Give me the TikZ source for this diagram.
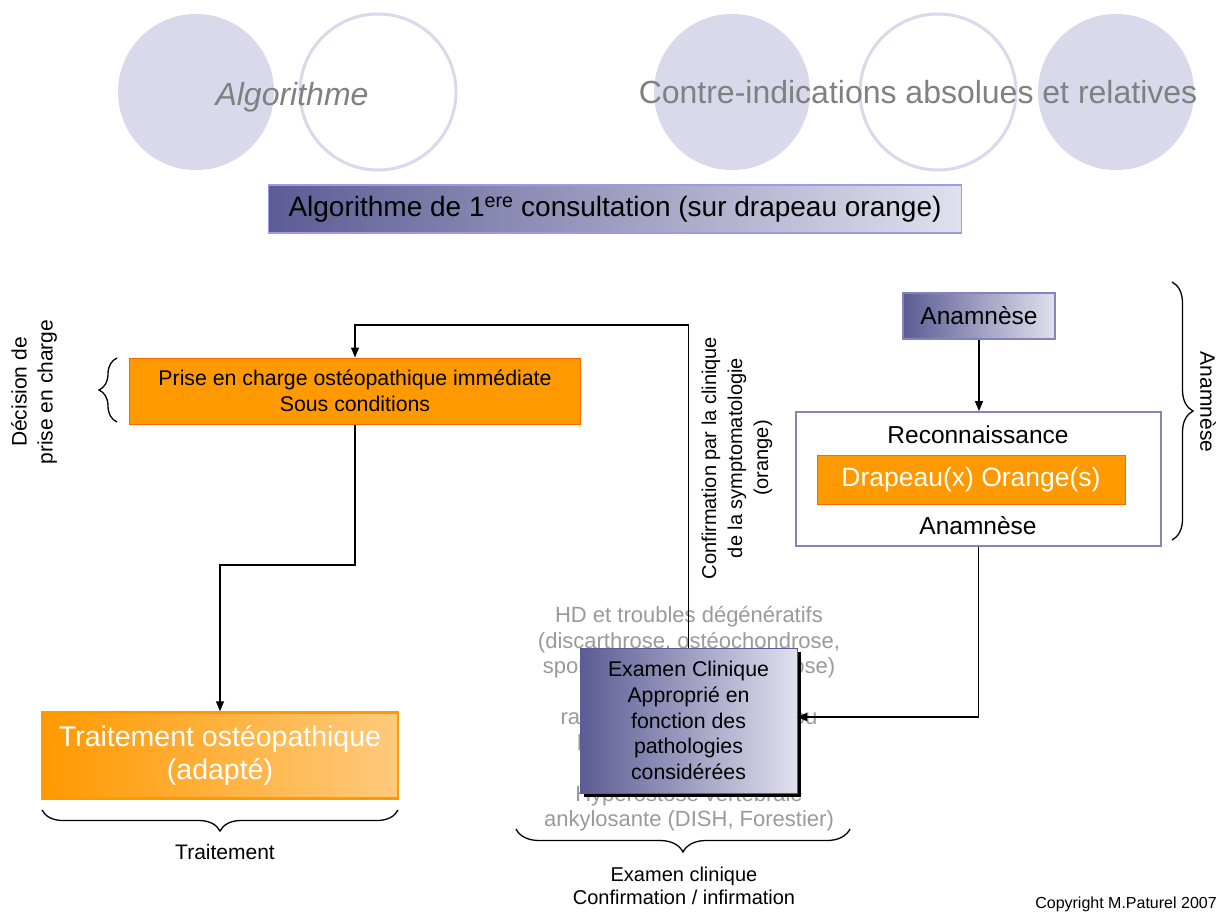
\documentclass[tikz,border=0pt]{standalone}
\usepackage{fontspec}
\setmainfont{Liberation Sans}
\usetikzlibrary{arrows.meta,decorations.pathreplacing,shadows}

\definecolor{circ}{HTML}{DAD9EC}
\definecolor{ttl}{HTML}{808080}
\definecolor{gdark}{HTML}{5C5C94}
\definecolor{glight}{HTML}{E0E0EE}
\definecolor{gborder}{HTML}{9B9BEA}
\definecolor{orng}{HTML}{FF9900}
\definecolor{orngb}{HTML}{FF6600}
\definecolor{orlight}{HTML}{FFCA7D}
\definecolor{greytxt}{HTML}{9A9A9A}
\definecolor{bigborder}{HTML}{8484BC}

\newcommand{\fsz}[2]{\fontsize{#1}{#2}\selectfont}

\begin{document}
\begin{tikzpicture}[x=1pt,y=-1pt,
  conn/.style={line width=1.3pt, -{Triangle[length=10pt,width=8pt]}},
  brc/.style={decorate, decoration={brace, amplitude=#1}, line width=1.3pt},
  brc/.default=20pt,
  gradbox/.style={draw=gborder, line width=1.2pt, left color=gdark, right color=glight, inner sep=0pt},
  orbox/.style={draw=orngb, line width=1pt, fill=orng, inner sep=0pt},
  ring/.style={draw=circ, line width=3pt, fill=white},
  disc/.style={fill=circ},
  lbl/.style={inner sep=0pt, align=center, text=black}
]
\fill[white] (0,0) rectangle (1230,911);
\useasboundingbox (0,0) rectangle (1230,911);

% decorative circles
\fill[disc] (196,92) circle [radius=78pt];
\draw[ring] (378,92) circle [radius=78pt];
\fill[disc] (732,92) circle [radius=78pt];
\draw[ring] (938,92) circle [radius=78pt];
\fill[disc] (1116,92) circle [radius=78pt];

\node[lbl, anchor=base, text=ttl, font=\fsz{32}{38}\itshape] (algo) at (292,105) {Algorithme};
\node[lbl, anchor=base, text=ttl, font=\fsz{32}{38}] (contre) at (918,103) {Contre-indications absolues et relatives};

% header
\node[gradbox, minimum width=693pt, minimum height=48pt, font=\fsz{28}{32}] (header) at (615,209)
  {Algorithme de 1\textsuperscript{ere} consultation (sur drapeau orange)};

% left column
\node[orbox, minimum width=451pt, minimum height=66pt, align=center, font=\fsz{21.3}{26}] (prise) at (355,391)
  {Prise en charge ostéopathique immédiate\\Sous conditions};
\node[draw=orng, line width=2.5pt, left color=orng, right color=orlight, inner sep=0pt,
  minimum width=356pt, minimum height=86pt, align=center, text=white, font=\fsz{28.5}{33}] (trait) at (220,755.5)
  {Traitement ostéopathique\\(adapté)};

\node[lbl, rotate=90, font=\fsz{21}{26}] (decision) at (34,392) {Décision de\\prise en charge};
\draw[brc=18pt] (117,422) -- (117,358);

\draw[brc=21pt] (398,810) -- (42,810);
\node[lbl, font=\fsz{21}{25}] (traitlbl) at (225,852) {Traitement};

% right column
\node[gradbox, draw=bigborder, minimum width=152pt, minimum height=46pt, font=\fsz{24.5}{28}] (anam) at (979,316) {Anamnèse};
\node[draw=bigborder, line width=1.8pt, fill=white, minimum width=365pt, minimum height=134pt, inner sep=0pt] (big) at (978.5,479) {};
\node[lbl, font=\fsz{24.5}{28}] (reco) at (978,435) {Reconnaissance};
\node[orbox, minimum width=308pt, minimum height=49pt, text=white, font=\fsz{26.5}{30}] (drap) at (971,479.5) {Drapeau(x) Orange(s)};
\node[lbl, font=\fsz{24.5}{28}] (anambot) at (978,526) {Anamnèse};

\draw[brc=21pt] (1172,282) -- (1172,540);
\node[lbl, rotate=-90, font=\fsz{21}{25}] (anamlbl) at (1208,402) {Anamnèse};

% middle
\node[lbl, text=greytxt, font=\fsz{22}{25.5}] (grey) at (689,719)
  {HD et troubles dégénératifs\\(discarthrose, ostéochondrose,\\spondylarthrose, uncarthrose)\\\mbox{}\\radiculalgies cervicales ou\\lombaires et sciatiques\\\mbox{}\\Hyperostose vertébrale\\ankylosante (DISH, Forestier)};

\node[gradbox, draw=gdark, line width=1pt, minimum width=217pt, minimum height=145pt, align=center,
  font=\fsz{21.3}{25.7}, drop shadow={shadow xshift=4pt, shadow yshift=-4pt, fill=black, opacity=1}] (exam) at (688.5,720.5)
  {Examen Clinique\\Approprié en\\fonction des\\pathologies\\considérées};

\node[lbl, rotate=90, font=\fsz{20}{26}] (confirm) at (737,458)
  {Confirmation par la clinique\\de la symptomatologie\\(orange)};

\draw[brc=23pt] (850,829) -- (516,829);
\node[lbl, font=\fsz{20}{23.5}] (examlbl) at (684,886) {Examen clinique\\Confirmation / infirmation};

\node[lbl, font=\fsz{16}{19}] (copy) at (1126,904) {Copyright M.Paturel 2007};

% connectors
\coordinate (topline) at (0,325);
\coordinate (midline) at (0,565);
\coordinate (arrin) at (797,717);
\draw[conn] (anam.south) -- (anam.south |- big.north);
\draw[conn] (big.south) |- (arrin);
\draw[conn] (prise.south) -- (prise.south |- midline) -| (trait.north);
\draw[conn] (exam.north) -- (exam.north |- topline) -| (prise.north);
\end{tikzpicture}
\end{document}
